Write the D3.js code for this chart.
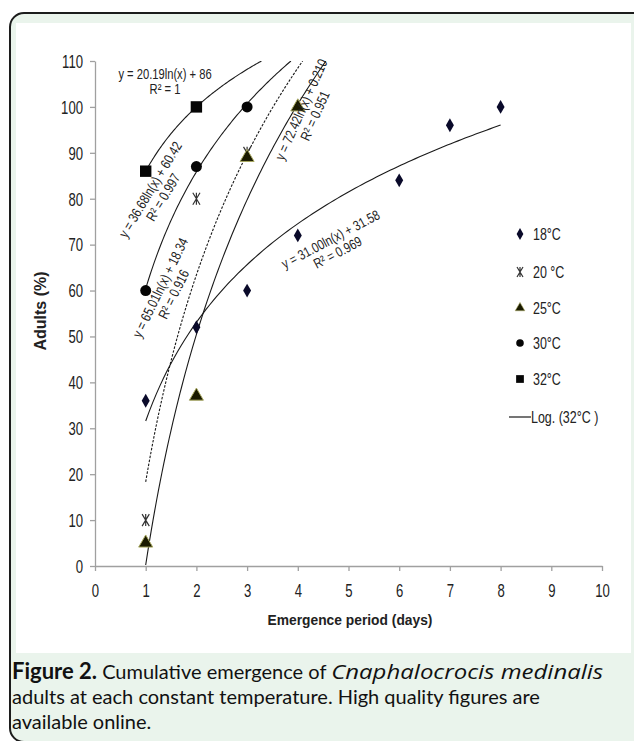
<!DOCTYPE html>
<html><head><meta charset="utf-8">
<script src="https://cdn.jsdelivr.net/npm/d3@7"></script>
<style>
html,body{margin:0;padding:0;background:#fff;}
svg{display:block;}
</style></head>
<body>
<svg id="c" width="634" height="741"></svg>
<script>
// ---- data ----
const xTicks = [0,1,2,3,4,5,6,7,8,9,10];
const yTicks = [0,10,20,30,40,50,60,70,80,90,100,110];
const seriesNames = ["18°C","20 °C","25°C","30°C","32°C"];
const s18x = [1,2,3,4,6,7,8];
const s18y = [36,52,60,72,84,96,100];
const s20x = [1,2,3];
const s20y = [10,80,90];
const s25x = [1,2,3,4];
const s25y = [5,37,89,100];
const s30x = [1,2,3];
const s30y = [60,87,100];
const s32x = [1,2];
const s32y = [86,100];
// fitted log trend coefficients: y = a ln(x) + b
const fitA = [31.00, 65.01, 72.42, 36.68, 20.19];
const fitB = [31.58, 18.34, 0.210, 60.42, 86];
const fitXmax = [8, 10, 10, 10, 10];
const eqText = ["y = 31.00ln(x) + 31.58","y = 65.01ln(x) + 18.34","y = 72.42ln(x) + 0.210","y = 36.68ln(x) + 60.42","y = 20.19ln(x)  + 86"];
const r2Text = ["R² = 0.969","R² = 0.916","R² = 0.951","R² = 0.997","R² = 1"];
const legendLineLabel = "Log. (32°C )";
const xTitle = "Emergence period (days)";
const yTitle = "Adults (%)";

const svg = d3.select("#c");
const sans = "'Liberation Sans',Arial,sans-serif";
const SX = 0.8; // horizontal squeeze to imitate a narrow face

// frame
svg.append("rect").attr("x",10).attr("y",13).attr("width",700).attr("height",729).attr("rx",14)
  .attr("fill","#eaf4ec").attr("stroke","#1c1c1c").attr("stroke-width",2);
svg.append("rect").attr("x",16).attr("y",23).attr("width",615).attr("height",630).attr("fill","#ffffff");

const x = d3.scaleLinear().domain([0,10]).range([95,602]);
const y = d3.scaleLinear().domain([0,110]).range([566,61]);

// axes
const TX = 0.75;
const gx = svg.append("g").attr("transform","translate(0,"+y(0)+")")
  .call(d3.axisBottom(x).tickValues(xTicks).tickSize(5).tickSizeOuter(0));
const gy = svg.append("g").attr("transform","translate("+x(0)+",0)")
  .call(d3.axisLeft(y).tickValues(yTicks).tickSize(5).tickSizeOuter(0));
[gx,gy].forEach(g=>{
  g.select(".domain").attr("stroke","#a0a0a0").attr("stroke-width",1.3);
  g.selectAll(".tick line").attr("stroke","#a0a0a0").attr("stroke-width",1.3);
  g.selectAll(".tick text").attr("fill","#222").style("font-family",sans).style("font-size","17.5px")
    .attr("transform",`scale(${TX},1)`);
});
gx.selectAll(".tick text").attr("y",19).attr("dy","0.71em");
gy.selectAll(".tick text").attr("x",-12/TX).attr("dy","0.36em");

svg.append("text").attr("transform","translate(350,625) scale(0.92,1)").attr("text-anchor","middle")
  .style("font-family",sans).style("font-size","15px").style("font-weight","bold").attr("fill","#222").text(xTitle);
svg.append("text").attr("transform","translate(46,311) rotate(-90)").attr("text-anchor","middle")
  .style("font-family",sans).style("font-size","16px").style("font-weight","bold").attr("fill","#222").text(yTitle);

// trend lines
svg.append("clipPath").attr("id","pc").append("rect")
  .attr("x",x(0)).attr("y",y(110)).attr("width",x(10)-x(0)).attr("height",y(0)-y(110));
const line = d3.line().x(d=>x(d[0])).y(d=>y(d[1]));
const tg = svg.append("g").attr("clip-path","url(#pc)");
fitA.forEach((a,i)=>{
  const b = fitB[i];
  const xEnd = Math.min(fitXmax[i], Math.exp((110-b)/a));
  const pts = d3.range(0,101).map(k=>{const xv = 1+(xEnd-1)*k/100; return [xv, a*Math.log(xv)+b];});
  tg.append("path").attr("d",line(pts)).attr("fill","none").attr("stroke","#1a1a1a")
    .attr("stroke-width",1.1).attr("stroke-dasharray", i===1 ? "2.5,1.5" : null);
});

// markers
const sym = {
  diamond: d3.symbol().type(d3.symbolDiamond).size(55),
  tri: d3.symbol().type(d3.symbolTriangle).size(85),
  circ: d3.symbol().type(d3.symbolCircle).size(95),
  sq: d3.symbol().type(d3.symbolSquare).size(130)
};
function star(g,cx,cy,r){
  const p = d3.path();
  p.moveTo(cx-r*0.6,cy-r); p.lineTo(cx+r*0.6,cy+r);
  p.moveTo(cx+r*0.6,cy-r); p.lineTo(cx-r*0.6,cy+r);
  p.moveTo(cx,cy-r); p.lineTo(cx,cy+r);
  g.append("path").attr("d",p.toString()).attr("stroke","#333").attr("stroke-width",1.2).attr("fill","none");
}
const mg = svg.append("g");
s18x.forEach((v,i)=>mg.append("path").attr("d",sym.diamond()).attr("transform",`translate(${x(v)},${y(s18y[i])})`).attr("fill","#0a0a2a"));
s20x.forEach((v,i)=>star(mg,x(v),y(s20y[i]),6));
s25x.forEach((v,i)=>mg.append("path").attr("d",sym.tri()).attr("transform",`translate(${x(v)},${y(s25y[i])})`).attr("fill","#1a1a00").attr("stroke","#a8a860").attr("stroke-width",1));
s30x.forEach((v,i)=>mg.append("path").attr("d",sym.circ()).attr("transform",`translate(${x(v)},${y(s30y[i])})`).attr("fill","#050505"));
s32x.forEach((v,i)=>mg.append("path").attr("d",sym.sq()).attr("transform",`translate(${x(v)},${y(s32y[i])})`).attr("fill","#050505"));

// equation labels (center position, angle)
const eqPos = [[331,240,-28],[161,288,-64],[302,110,-66],[151,190,-59],[165,75,0]];
eqPos.forEach((p,i)=>{
  const g = svg.append("g").attr("transform",`translate(${p[0]},${p[1]}) rotate(${p[2]}) scale(${SX},1)`);
  g.append("text").attr("text-anchor","middle").attr("y",4).style("font-family",sans).style("font-size","14px").attr("fill","#222").text(eqText[i]);
  g.append("text").attr("text-anchor","middle").attr("y",19).style("font-family",sans).style("font-size","14px").attr("fill","#222").text(r2Text[i]);
});

// legend
const lx = 520, ly = [234,272,308,343,379,417];
const lg = svg.append("g");
lg.append("path").attr("d",d3.symbol().type(d3.symbolDiamond).size(40)()).attr("transform",`translate(${lx},${ly[0]})`).attr("fill","#0a0a2a");
star(lg,lx,ly[1],5);
lg.append("path").attr("d",d3.symbol().type(d3.symbolTriangle).size(40)()).attr("transform",`translate(${lx},${ly[2]})`).attr("fill","#1a1a00").attr("stroke","#a8a860").attr("stroke-width",0.6);
lg.append("path").attr("d",d3.symbol().type(d3.symbolCircle).size(45)()).attr("transform",`translate(${lx},${ly[3]})`).attr("fill","#050505");
lg.append("path").attr("d",d3.symbol().type(d3.symbolSquare).size(60)()).attr("transform",`translate(${lx},${ly[4]})`).attr("fill","#050505");
lg.append("line").attr("x1",509).attr("x2",531).attr("y1",ly[5]).attr("y2",ly[5]).attr("stroke","#1a1a1a").attr("stroke-width",1.2);
seriesNames.forEach((n,i)=>lg.append("text").attr("transform",`translate(533,${ly[i]+6}) scale(0.78,1)`).style("font-family",sans).style("font-size","16px").attr("fill","#222").text(n));
lg.append("text").attr("transform",`translate(531,${ly[5]+6}) scale(0.78,1)`).style("font-family",sans).style("font-size","16px").attr("fill","#222").text(legendLineLabel);

// caption
const capFont = "Lato,'Open Sans',sans-serif";
const cap = svg.append("text").style("font-family",capFont).style("font-size","20px").attr("fill","#111");
const l1 = cap.append("tspan").attr("x",12).attr("y",679);
l1.append("tspan").style("font-weight","bold").style("font-size","22px").text("Figure 2.");
l1.append("tspan").text(" Cumulative emergence of ");
l1.append("tspan").style("font-style","italic").style("font-family","'Open Sans',sans-serif").attr("textLength",272).attr("lengthAdjust","spacingAndGlyphs").text("Cnaphalocrocis medinalis");
cap.append("tspan").attr("x",12).attr("y",704).text("adults at each constant temperature. High quality figures are");
cap.append("tspan").attr("x",12).attr("y",729).text("available online.");
</script>
</body></html>
